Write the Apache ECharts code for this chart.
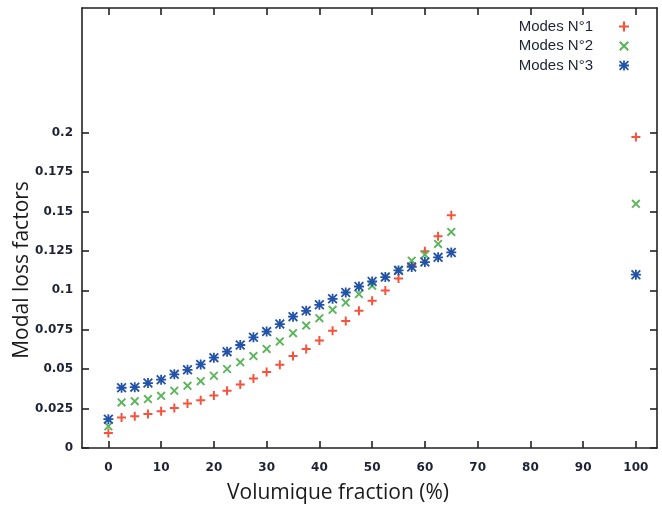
<!DOCTYPE html>
<html>
<head>
<meta charset="utf-8">
<script src="https://cdn.jsdelivr.net/npm/echarts@6/dist/echarts.min.js"></script>
<style>html,body{margin:0;padding:0;background:#fff}#c{width:662px;height:509px}</style>
</head>
<body>
<div id="c"></div>
<script>
// Volumique fraction (%)
var fractions = [0, 2.5, 5, 7.5, 10, 12.5, 15, 17.5, 20, 22.5, 25, 27.5, 30, 32.5, 35, 37.5, 40, 42.5, 45, 47.5, 50, 52.5, 55, 57.5, 60, 62.5, 65, 100];
var mode1 = [0.0095, 0.0193, 0.0202, 0.0216, 0.0233, 0.0254, 0.0282, 0.0303, 0.0333, 0.0363, 0.0403, 0.0441, 0.0482, 0.0528, 0.0583, 0.0628, 0.0681, 0.0744, 0.0806, 0.0870, 0.0933, 0.0999, 0.1075, 0.1160, 0.1247, 0.1342, 0.1476, 0.1972];
var mode2 = [0.0138, 0.0289, 0.0297, 0.0310, 0.0331, 0.0363, 0.0394, 0.0424, 0.0458, 0.0501, 0.0543, 0.0583, 0.0628, 0.0676, 0.0728, 0.0776, 0.0823, 0.0876, 0.0922, 0.0976, 0.1029, 0.1084, 0.1130, 0.1188, 0.1226, 0.1294, 0.1370, 0.1548];
var mode3 = [0.0183, 0.0382, 0.0386, 0.0412, 0.0433, 0.0467, 0.0496, 0.0530, 0.0573, 0.0611, 0.0653, 0.0702, 0.0738, 0.0786, 0.0833, 0.0870, 0.0908, 0.0946, 0.0986, 0.1024, 0.1056, 0.1084, 0.1126, 0.1148, 0.1179, 0.1209, 0.1240, 0.1099];
var seriesNames = ['Modes N°1', 'Modes N°2', 'Modes N°3'];
var xTicks = [0, 10, 20, 30, 40, 50, 60, 70, 80, 90, 100];
var yTicks = [0, 0.025, 0.05, 0.075, 0.1, 0.125, 0.15, 0.175, 0.2];

var PLUS = 'path://M3.9,0 H6.1 V3.9 H10 V6.1 H6.1 V10 H3.9 V6.1 H0 V3.9 H3.9 Z';
var CROSS = 'path://M0,1.5 L1.5,0 L10,8.5 L8.5,10 Z M8.5,0 L10,1.5 L1.5,10 L0,8.5 Z';
var STAR = 'path://M4.1,0 H5.9 V4.1 H10 V5.9 H5.9 V10 H4.1 V5.9 H0 V4.1 H4.1 Z M0,1.3 L1.3,0 L10,8.7 L8.7,10 Z M8.7,0 L10,1.3 L1.3,10 L0,8.7 Z';
var colors = ['#f5533d', '#5cb55c', '#2353a8'];

function pts(ys) { return fractions.map(function (x, i) { return [x, ys[i]]; }); }

var labelStyle = { fontFamily: 'DejaVu Sans', fontWeight: 'bold', fontSize: 12, color: '#1e2236' };
var lineStyle = { color: '#222', width: 1.6 };

var chart = echarts.init(document.getElementById('c'), null, { renderer: 'canvas' });
chart.setOption({
  animation: false,
  backgroundColor: '#fff',
  grid: { left: 82, right: 5, top: 8, bottom: 61, containLabel: false },
  xAxis: [{
    type: 'value', min: -5, max: 104, position: 'bottom',
    axisLine: { show: true, onZero: false, lineStyle: lineStyle },
    axisTick: { show: true, inside: true, length: 7, customValues: xTicks, lineStyle: lineStyle },
    axisLabel: Object.assign({ customValues: xTicks, margin: 14 }, labelStyle),
    splitLine: { show: false }
  }, {
    type: 'value', min: -5, max: 104, position: 'top',
    axisLine: { show: true, onZero: false, lineStyle: lineStyle },
    axisTick: { show: true, inside: true, length: 7, customValues: xTicks, lineStyle: lineStyle },
    axisLabel: { show: false },
    splitLine: { show: false }
  }],
  yAxis: [{
    type: 'value', min: 0, max: 0.279, position: 'left',
    axisLine: { show: true, onZero: false, lineStyle: lineStyle },
    axisTick: { show: true, inside: true, length: 7, customValues: yTicks, lineStyle: lineStyle },
    axisLabel: Object.assign({ customValues: yTicks, margin: 9 }, labelStyle),
    splitLine: { show: false }
  }, {
    type: 'value', min: 0, max: 0.279, position: 'right',
    axisLine: { show: true, onZero: false, lineStyle: lineStyle },
    axisTick: { show: true, inside: true, length: 7, customValues: yTicks, lineStyle: lineStyle },
    axisLabel: { show: false },
    splitLine: { show: false }
  }],
  legend: {
    orient: 'vertical', right: 28, top: 14, align: 'right',
    itemWidth: 10, itemHeight: 10, itemGap: 4.5,
    textStyle: { fontFamily: 'Liberation Sans', fontSize: 15, color: '#1e2236', padding: [0, 21, 0, 0], lineHeight: 15 },
    data: [
      { name: seriesNames[0], icon: PLUS },
      { name: seriesNames[1], icon: CROSS },
      { name: seriesNames[2], icon: STAR }
    ]
  },
  graphic: [{
    type: 'text', x: 338, y: 493,
    style: { text: 'Volumique fraction (%)', fontFamily: 'Open Sans', fontSize: 21, fill: '#1a1a1a', align: 'center', verticalAlign: 'middle' }
  }, {
    type: 'text', x: 22, y: 270, rotation: Math.PI / 2,
    style: { text: 'Modal loss factors', fontFamily: 'Open Sans', fontSize: 21, fill: '#1a1a1a', align: 'center', verticalAlign: 'middle' }
  }],
  series: [{
    name: seriesNames[0], type: 'scatter', symbol: PLUS, symbolSize: 9,
    itemStyle: { color: colors[0], opacity: 1 }, data: pts(mode1)
  }, {
    name: seriesNames[1], type: 'scatter', symbol: CROSS, symbolSize: 9,
    itemStyle: { color: colors[1], opacity: 1 }, data: pts(mode2)
  }, {
    name: seriesNames[2], type: 'scatter', symbol: STAR, symbolSize: 10,
    itemStyle: { color: colors[2], opacity: 1 }, data: pts(mode3)
  }]
});
</script>
</body>
</html>
